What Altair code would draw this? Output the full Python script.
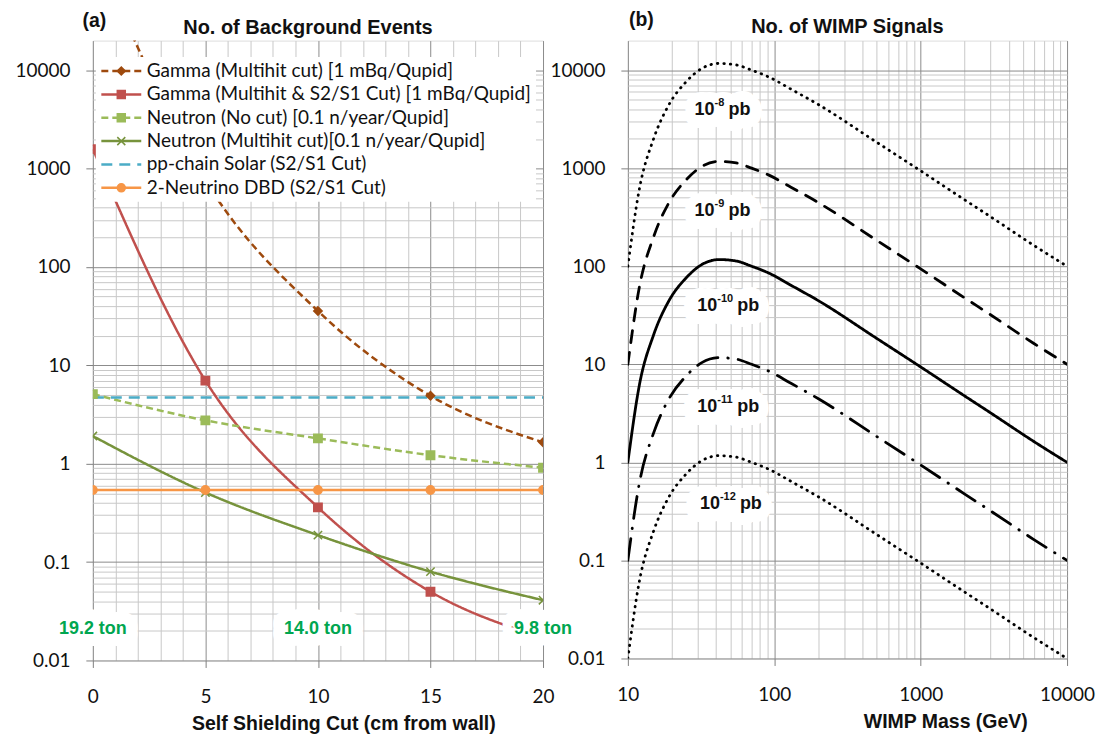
import altair as alt
import pandas as pd

# ---------------- panel (a): background events ----------------
cut_cm = [0, 5, 10, 15, 20]
series_names = [
    "Gamma (Multihit cut) [1 mBq/Qupid]",
    "Gamma (Multihit & S2/S1 Cut) [1 mBq/Qupid]",
    "Neutron (No cut) [0.1 n/year/Qupid]",
    "Neutron (Multihit cut)[0.1 n/year/Qupid]",
    "pp-chain Solar (S2/S1 Cut)",
    "2-Neutrino DBD (S2/S1 Cut)",
]
gamma_multihit = [190000, 760, 35.7, 4.9, 1.65]
gamma_multihit_s2s1 = [1580, 7.0, 0.36, 0.05, 0.017]
neutron_nocut = [5.1, 2.76, 1.81, 1.22, 0.91]
neutron_multihit = [1.91, 0.51, 0.188, 0.080, 0.041]
pp_chain_solar = [4.7, 4.7, 4.7, 4.7, 4.7]
two_nu_dbd = [0.54, 0.54, 0.54, 0.54, 0.54]
has_markers = [True, True, True, True, False, True]

ton_cut = [0, 10, 20]
ton_events = [0.021, 0.021, 0.021]
ton_labels = ["19.2 ton", "14.0 ton", "9.8 ton"]

# ---------------- panel (b): WIMP signals ----------------
wimp_mass = [10, 12, 15, 19, 25, 32, 42, 55, 70, 92, 130, 203, 500, 1000, 2000, 3000, 5900, 10000]
sigma_names = ["1e-8 pb", "1e-9 pb", "1e-10 pb", "1e-11 pb", "1e-12 pb"]
sig_1e8 = [100, 620, 2000, 4400, 7600, 10400, 11700, 11300, 10000, 8500, 6400, 4400, 1840, 940, 475, 320, 164, 100]
sig_1e9 = [10, 62, 200, 440, 760, 1040, 1170, 1130, 1000, 850, 640, 440, 184, 94, 47.5, 32, 16.4, 10]
sig_1e10 = [1, 6.2, 20, 44, 76, 104, 117, 113, 100, 85, 64, 44, 18.4, 9.4, 4.75, 3.2, 1.64, 1]
sig_1e11 = [0.1, 0.62, 2.0, 4.4, 7.6, 10.4, 11.7, 11.3, 10.0, 8.5, 6.4, 4.4, 1.84, 0.94, 0.475, 0.32, 0.164, 0.1]
sig_1e12 = [0.01, 0.062, 0.2, 0.44, 0.76, 1.04, 1.17, 1.13, 1.0, 0.85, 0.64, 0.44, 0.184, 0.094, 0.0475, 0.032, 0.0164, 0.01]

sigma_label_base = ["10", "10", "10", "10", "10"]
sigma_label_exp = ["-8", "-9", "-10", "-11", "-12"]
sigma_label_unit = ["pb", "pb", "pb", "pb", "pb"]
sigma_label_mass = [45, 45, 47, 47, 49]
sigma_label_signal = [3900, 370, 39, 3.7, 0.38]

# ---------------- styles ----------------
BOLDF = "Liberation Sans"
LABEL_FONT = "Lato"
series_colors = ["#9E4A0E", "#C0504D", "#9BBB59", "#77933C", "#4BACC6", "#F79646"]
series_dashes = [[7, 4], [1, 0], [7, 4], [1, 0], [11, 7], [1, 0]]
series_shapes = ["diamond", "square", "square", "M-1,-1L1,1M-1,1L1,-1", "M0,0", "circle"]
sigma_dashes = [[0.5, 6], [12, 10], [1, 0], [22, 10, 0.5, 10], [0.5, 6]]

MAJOR = "#8c8c8c"
MINOR = "#c8c8c8"

# ---------------- build tables ----------------
marker_names = [n + " " for n in series_names]  # separate domain so the marker legend stays apart
all_series = [gamma_multihit, gamma_multihit_s2s1, neutron_nocut, neutron_multihit, pp_chain_solar, two_nu_dbd]
rows = []
for name, mname, vals, mk in zip(series_names, marker_names, all_series, has_markers):
    for c, v in zip(cut_cm, vals):
        rows.append({"cut": c, "events": v, "series": name, "series2": mname, "marker": mk})
df_a = pd.DataFrame(rows)
df_a_pts = df_a[df_a["marker"]]
df_ton = pd.DataFrame({"cut": ton_cut, "events": ton_events, "label": ton_labels})

rows = []
for name, vals in zip(sigma_names, [sig_1e8, sig_1e9, sig_1e10, sig_1e11, sig_1e12]):
    for m, v in zip(wimp_mass, vals):
        rows.append({"mass": m, "signals": v, "sigma": name})
df_b = pd.DataFrame(rows)
df_b_lab = pd.DataFrame({
    "mass": sigma_label_mass, "signals": sigma_label_signal,
    "base": sigma_label_base, "exp": sigma_label_exp, "unit": sigma_label_unit,
    "full": [b + e + " " + u for b, e, u in zip(sigma_label_base, sigma_label_exp, sigma_label_unit)],
    "wide": [len(e) > 2 for e in sigma_label_exp],
})

# ---------------- axes ----------------
def log_values(lo_exp, hi_exp):
    vals = []
    for e in range(lo_exp, hi_exp):
        for m in range(1, 10):
            vals.append(round(m * 10 ** e, 8))
    vals.append(round(10 ** hi_exp, 8))
    return vals

IS_DECADE = "abs(log(datum.value)/LN10 - round(log(datum.value)/LN10)) < 0.001"
LOG_LABEL = "(" + IS_DECADE + ") ? format(datum.value, '~g') : ''"

common_axis = dict(
    grid=True, gridWidth=1, tickSize=7, tickColor="#7f7f7f", domain=False,
    labelFont=LABEL_FONT, labelFontSize=19, labelColor="#111111", labelFlush=False,
    titleFont=BOLDF, titleFontSize=19.5, titleFontWeight="bold", titleColor="#111111",
    titleAlign="center", titleBaseline="middle",
)


def y_log_axis(title_txt, tx, ty):
    return alt.Axis(
        values=log_values(-2, 4), labelExpr=LOG_LABEL,
        gridColor={"condition": {"test": IS_DECADE, "value": MAJOR}, "value": MINOR},
        tickOpacity={"condition": {"test": IS_DECADE, "value": 1}, "value": 0},
        labelPadding=16, labelOverlap=False,
        title=title_txt, titleAngle=0, titleX=tx, titleY=ty, **common_axis,
    )


x_axis_a = alt.Axis(
    values=list(range(0, 21)), labelExpr="datum.value % 5 === 0 ? datum.label : ''",
    gridColor={"condition": {"test": "datum.value % 5 === 0", "value": MAJOR}, "value": MINOR},
    tickOpacity={"condition": {"test": "datum.value % 5 === 0", "value": 1}, "value": 0},
    labelPadding=20, labelOverlap=False,
    title="Self Shielding Cut (cm from wall)", titleX=251, titleY=63, **common_axis,
)

x_axis_b = alt.Axis(
    values=log_values(1, 4), labelExpr=LOG_LABEL,
    gridColor={"condition": {"test": IS_DECADE, "value": MAJOR}, "value": MINOR},
    tickOpacity={"condition": {"test": IS_DECADE, "value": 1}, "value": 0},
    labelPadding=20, labelOverlap=False,
    title="WIMP Mass (GeV)", titleX=318, titleY=63, **common_axis,
)

X_A = alt.X("cut:Q", scale=alt.Scale(domain=[0, 20], nice=False, zero=False), axis=x_axis_a)
Y_A = alt.Y("events:Q", scale=alt.Scale(type="log", domain=[0.01, 20000], nice=False), axis=y_log_axis("(a)", 1, -20))
X_B = alt.X("mass:Q", scale=alt.Scale(type="log", domain=[10, 10000], nice=False), axis=x_axis_b)
Y_B = alt.Y("signals:Q", scale=alt.Scale(type="log", domain=[0.01, 20000], nice=False), axis=y_log_axis("(b)", 13, -21))

# ---------------- legends ----------------
leg_common = dict(
    orient="none", legendX=3, legendY=16.5, title=None,
    labelFont=LABEL_FONT, labelFontSize=19, labelColor="#111111", labelLimit=600,
    padding=4, rowPadding=3.4, clipHeight=20,
)
legend_lines = alt.Legend(symbolType="stroke", symbolSize=1600, symbolStrokeWidth=2.5,
                          fillColor="white", zindex=1, **leg_common)
legend_pts = alt.Legend(symbolSize=64, symbolStrokeWidth=1.5, symbolOffset=12,
                        labelExpr="' '", labelOpacity=0, symbolOpacity=1, zindex=2, **leg_common)

# ---------------- panel (a) layers ----------------
lines_a = alt.Chart(df_a).mark_line(clip=True, strokeWidth=2.5, interpolate="monotone").encode(
    x=X_A, y=Y_A,
    color=alt.Color("series:N", scale=alt.Scale(domain=series_names, range=series_colors), legend=legend_lines),
    strokeDash=alt.StrokeDash("series:N", scale=alt.Scale(domain=series_names, range=series_dashes), legend=legend_lines),
)
points_a = alt.Chart(df_a_pts).mark_point(filled=True, clip=True, strokeWidth=1.5, opacity=1, size=70).encode(
    x=X_A, y=Y_A,
    fill=alt.Fill("series2:N", scale=alt.Scale(domain=marker_names, range=series_colors), legend=legend_pts),
    stroke=alt.Stroke("series2:N", scale=alt.Scale(domain=marker_names, range=series_colors), legend=legend_pts),
    shape=alt.Shape("series2:N", scale=alt.Scale(domain=marker_names, range=series_shapes), legend=legend_pts),
)
ton_halo = alt.Chart(df_ton).mark_text(
    font=BOLDF, fontSize=18, fontWeight="bold", color="white", stroke="white",
    strokeWidth=24, strokeJoin="round", align="center", baseline="middle",
).encode(x=X_A, y=Y_A, text="label:N")
ton_text = alt.Chart(df_ton).mark_text(
    font=BOLDF, fontSize=18, fontWeight="bold", color="#00A650", align="center", baseline="middle",
).encode(x=X_A, y=Y_A, text="label:N")

panel_a = alt.layer(lines_a, points_a, ton_halo, ton_text).properties(
    width=451, height=621,
    title=alt.TitleParams("No. of Background Events", font=BOLDF, fontSize=20, fontWeight="bold",
                          color="#111111", anchor="middle", frame="group", offset=-47,
                          baseline="bottom", dx=-10),
)

# ---------------- panel (b) layers ----------------
lines_b = alt.Chart(df_b).mark_line(clip=True, strokeWidth=2.8, strokeCap="round",
                                    interpolate="monotone", color="black").encode(
    x=X_B, y=Y_B,
    strokeDash=alt.StrokeDash("sigma:N", scale=alt.Scale(domain=sigma_names, range=sigma_dashes), legend=None),
    detail="sigma:N",
)
lab_halo = alt.Chart(df_b_lab).mark_text(
    font=BOLDF, fontSize=15, fontWeight="bold", color="white", stroke="white",
    strokeWidth=26, strokeJoin="round", align="center", baseline="middle",
).encode(x=X_B, y=Y_B, text="full:N")
lab_base = alt.Chart(df_b_lab).mark_text(
    font=BOLDF, fontSize=18, fontWeight="bold", color="#111111", align="right", baseline="middle", dx=-9,
).encode(x=X_B, y=Y_B, text="base:N")
lab_exp = alt.Chart(df_b_lab).mark_text(
    font=BOLDF, fontSize=11, fontWeight="bold", color="#111111", align="left", baseline="middle",
    dx=-9, dy=-7,
).encode(x=X_B, y=Y_B, text="exp:N")
lab_unit_narrow = alt.Chart(df_b_lab).transform_filter("!datum.wide").mark_text(
    font=BOLDF, fontSize=18, fontWeight="bold", color="#111111", align="left", baseline="middle", dx=5,
).encode(x=X_B, y=Y_B, text="unit:N")
lab_unit_wide = alt.Chart(df_b_lab).transform_filter("datum.wide").mark_text(
    font=BOLDF, fontSize=18, fontWeight="bold", color="#111111", align="left", baseline="middle", dx=11,
).encode(x=X_B, y=Y_B, text="unit:N")

panel_b = alt.layer(lines_b, lab_halo, lab_base, lab_exp, lab_unit_narrow, lab_unit_wide).properties(
    width=440, height=619,
    title=alt.TitleParams("No. of WIMP Signals", font=BOLDF, fontSize=20, fontWeight="bold",
                          color="#111111", anchor="middle", frame="group", offset=-47,
                          baseline="bottom"),
)

chart = alt.hconcat(panel_a, panel_b, spacing=85, bounds="flush",
                    padding={"left": 6, "top": 0, "right": 0, "bottom": 0}).resolve_scale(
    color="independent", strokeDash="independent", fill="independent",
    stroke="independent", shape="independent", x="independent", y="independent",
).configure_view(stroke="#8a8a8a", strokeWidth=1).configure(background="white")

chart.save("out.html", embed_options={"renderer": "svg", "actions": False})
